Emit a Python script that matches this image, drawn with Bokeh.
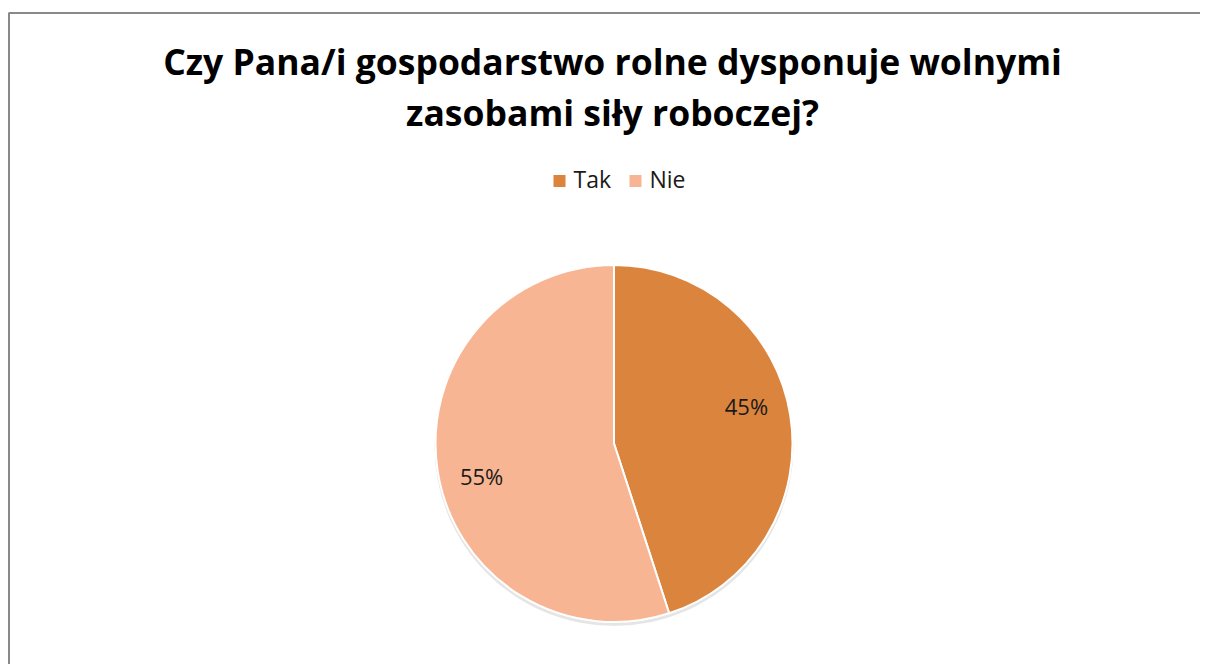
import math
from bokeh.plotting import figure
from bokeh.models import Range1d, Label, ColumnDataSource
from bokeh.core.properties import value
from bokeh.embed import file_html
from bokeh.resources import INLINE

# ---- data ----
categories = ["Tak", "Nie"]
shares = [45, 55]
colors = ["#DB843D", "#F8B593"]
title_lines = ["Czy Pana/i gospodarstwo rolne dysponuje wolnymi",
               "zasobami siły roboczej?"]

W, H = 1200, 664
FONT = "Open Sans"

p = figure(width=W, height=H, output_backend="svg", toolbar_location=None,
           x_range=Range1d(0, W), y_range=Range1d(0, H),
           min_border=0, min_border_left=0, min_border_right=0,
           min_border_top=0, min_border_bottom=0)
p.axis.visible = False
p.grid.visible = False
p.outline_line_color = None
p.background_fill_color = "white"
p.border_fill_color = "white"

# chart border (only left and top edges visible in the window)
p.line(x=[8.5, 8.5, W + 20], y=[-20, H - 12.5, H - 12.5],
       line_color="#898989", line_width=2)

# title
for i, t in enumerate(title_lines):
    p.add_layout(Label(x=612, y=H - 60.5 - i * 50.5, text=t, text_align="center",
                       text_baseline="middle", text_font=FONT,
                       text_font_size="35.5px", text_font_style="bold",
                       text_color="#000000"))

# pie
cx, cy, r = 613.5, H - 443, 178.5
total = float(sum(shares))
starts, ends, mids = [], [], []
ang = math.pi / 2
for s in shares:
    sweep = s / total * 2 * math.pi
    ends.append(ang)
    starts.append(ang - sweep)
    mids.append(ang - sweep / 2)
    ang -= sweep

# subtle shadow
p.circle(x=[cx], y=[cy - 3], radius=r + 1, radius_units="screen",
         fill_color="#000000", fill_alpha=0.10, line_color=None)

src = ColumnDataSource(dict(start=starts, end=ends, color=colors, cat=categories))
p.wedge(x=cx, y=cy, radius=r, radius_units="screen", start_angle="start",
        end_angle="end", fill_color="color", line_color="white", line_width=2,
        source=src)

# percentage labels
rot = math.radians(6)
lx = [cx + 0.768 * r * math.cos(m + rot) for m in mids]
ly = [cy + 0.768 * r * math.sin(m + rot) + 2.5 for m in mids]
ltxt = [f"{s}%" for s in shares]
p.text(x=lx, y=ly, text=ltxt, text_align="center", text_baseline="middle",
       text_font=value(FONT), text_font_size="22px", text_color="#1a1a1a")

# legend (manual)
lg_x = [553, 629]
sq = 12
sq_x = [v + sq / 2 for v in lg_x]
sq_y = [H - 180.5] * len(categories)
p.rect(x=sq_x, y=sq_y, width=sq, height=sq, width_units="screen",
       height_units="screen", fill_color=colors, line_color=None)
p.text(x=[v + 20 for v in lg_x], y=[H - 178.5] * len(categories), text=categories,
       text_align="left", text_baseline="middle", text_font=value(FONT),
       text_font_size="23px", text_color="#1a1a1a")

open("out.html", "w").write(file_html(p, INLINE))
